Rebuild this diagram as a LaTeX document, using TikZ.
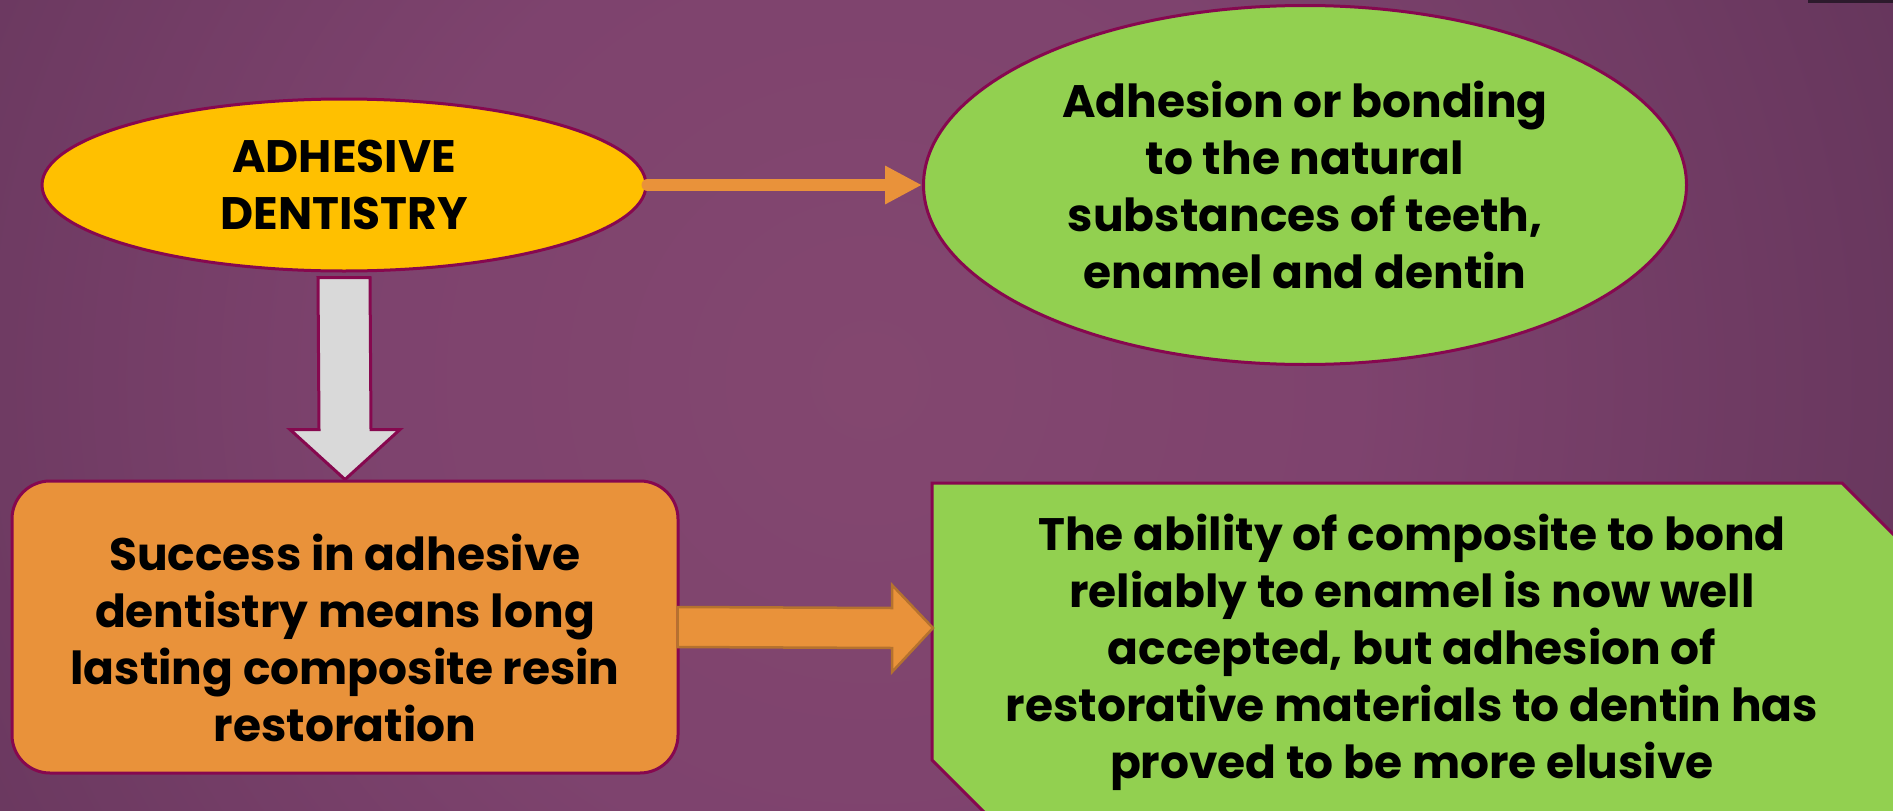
\documentclass[tikz,border=0pt]{standalone}
\usepackage{fontspec}
\setmainfont{Poppins}
\usetikzlibrary{shapes.geometric,arrows.meta,calc}
\definecolor{edgec}{HTML}{86084F}
\definecolor{yelc}{HTML}{FFC000}
\definecolor{grnc}{HTML}{92D050}
\definecolor{orgc}{HTML}{E9923A}
\definecolor{orgdk}{HTML}{B5722E}
\definecolor{gryc}{HTML}{D9D9D9}
\definecolor{bgA}{HTML}{83476F}
\definecolor{bgB}{HTML}{7E436E}
\definecolor{bgC}{HTML}{4C2849}
\definecolor{bgD}{HTML}{3C2242}
\definecolor{bgE}{HTML}{351E3A}
\definecolor{stripc}{HTML}{2C1A2C}
\pgfdeclareradialshading{bgshade}{\pgfpoint{0bp}{0bp}}{color(0bp)=(bgA); color(11bp)=(bgB); color(40bp)=(bgC); color(47bp)=(bgD); color(72bp)=(bgE)}
\tikzset{
  txt/.style={font=\bfseries\fontsize{45.5}{57}\selectfont, align=center, text=black},
  ell/.style={ellipse, draw=edgec, line width=3pt, inner sep=0pt, txt},
  boxst/.style={rectangle, rounded corners=38pt, draw=edgec, line width=3pt, inner sep=0pt, txt},
  thinarrow/.style={draw=orgc, line width=12pt, line cap=round, -{Triangle[length=37pt,width=36pt]}},
  blockarrow/.style={fill=orgc, draw=orgdk, line width=2.5pt, line join=miter},
  grayarrow/.style={fill=gryc, draw=edgec, line width=3pt, line join=miter}
}
\begin{document}
\begin{tikzpicture}[x=1pt,y=-1pt]
\useasboundingbox (0,0) rectangle (1893,811);
\clip (0,0) rectangle (1893,811);
% background
\shade[shading=bgshade] (-230,-720) rectangle (1970,1480);
\fill[stripc] (1808,0) rectangle (1893,3);
% green snipped shape
\draw[fill=grnc, draw=edgec, line width=3pt] (932,483) -- (1842,483) -- (2000,641) -- (2000,900) -- (1072,900) -- (932,760) -- cycle;
\coordinate (polyW) at (933,628);
\node[txt] (abil) at (1412,652) {The ability of composite to bond\\reliably to enamel is now well\\accepted, but adhesion of\\restorative materials to dentin has\\proved to be more elusive};
% nodes
\node[ell, fill=yelc, minimum width=604pt, minimum height=172pt] (adh) at (344,185) {ADHESIVE\\DENTISTRY};
\node[ell, fill=grnc, minimum width=763pt, minimum height=359pt] (gre) at (1305,185) {Adhesion or bonding\\to the natural\\substances of teeth,\\enamel and dentin};
\node[boxst, fill=orgc, minimum width=666pt, minimum height=292pt] (succ) at (345,627) {\rule{0pt}{58pt}Success in adhesive\\dentistry means long\\lasting composite resin\\restoration};
% connectors
\draw[thinarrow] (adh) -- (gre);
\draw[grayarrow] ($(adh.south)+(-26,5)$) -- ($(succ.north)+(-26,-50)$) -- ($(succ.north)+(-55,-50)$) -- (succ.north) -- ($(succ.north)+(55,-50)$) -- ($(succ.north)+(26,-50)$) -- ($(adh.south)+(26,5)$) -- cycle;
\draw[blockarrow] ($(succ.east)+(-2,-20)$) -- ($(polyW)+(-41,-20)$) -- ($(polyW)+(-41,-43)$) -- (polyW) -- ($(polyW)+(-41,44)$) -- ($(polyW)+(-41,20)$) -- ($(succ.east)+(-2,20)$) -- cycle;
\end{tikzpicture}
\end{document}
